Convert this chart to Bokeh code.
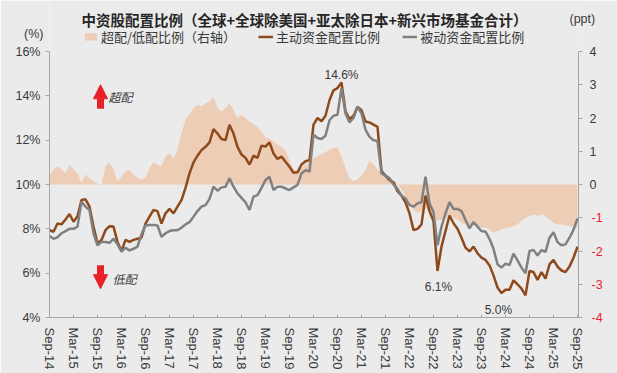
import numpy as np
from bokeh.plotting import figure
from bokeh.models import (Range1d, LinearAxis, FixedTicker, PrintfTickFormatter, Label,
                          Legend, LegendItem, Arrow, NormalHead)
from bokeh.embed import file_html
from bokeh.resources import INLINE

# ---------------- data ----------------
tick_labels = ["Sep-14", "Mar-15", "Sep-15", "Mar-16", "Sep-16", "Mar-17", "Sep-17", "Mar-18",
               "Sep-18", "Mar-19", "Sep-19", "Mar-20", "Sep-20", "Mar-21", "Sep-21", "Mar-22",
               "Sep-22", "Mar-23", "Sep-23", "Mar-24", "Sep-24", "Mar-25", "Sep-25"]

# 主动资金配置比例 (%), monthly Sep-14 .. Sep-25
active = [7.94, 7.87, 8.24, 8.20, 8.42, 8.67, 8.32, 8.57, 9.30, 9.33,
          9.00, 8.10, 7.34, 7.50, 7.94, 8.12, 8.10, 7.41, 7.00, 7.50,
          7.41, 7.50, 7.55, 7.60, 8.24, 8.55, 8.85, 8.80, 8.24, 8.70,
          8.90, 8.70, 9.00, 9.30, 9.85, 10.50, 11.00, 11.30, 11.55, 11.70,
          11.90, 12.50, 12.30, 12.05, 12.00, 12.69, 12.30, 11.70, 11.35, 11.20,
          10.90, 11.30, 11.20, 11.75, 11.71, 11.90, 11.40, 11.15, 11.26, 11.03,
          10.80, 10.53, 10.55, 10.90, 11.05, 11.10, 12.70, 13.00, 12.85, 13.10,
          13.80, 14.25, 14.35, 14.60, 13.30, 12.95, 13.10, 13.50, 13.35, 12.84,
          12.80, 12.70, 12.60, 10.60, 10.40, 10.20, 10.10, 9.70, 9.50, 9.20,
          8.70, 7.94, 8.00, 8.20, 9.50, 8.80, 8.35, 6.10, 7.20, 7.90,
          8.60, 8.25, 8.00, 7.60, 7.15, 6.98, 7.20, 6.90, 6.70, 6.60,
          6.35, 5.90, 5.35, 5.10, 5.25, 5.25, 5.68, 5.50, 5.30, 5.00,
          6.10, 6.05, 5.70, 6.05, 5.75, 6.40, 6.60, 6.30, 6.12, 6.05,
          6.30, 6.70, 7.19]

# 被动资金配置比例 (%)
passive = [7.67, 7.55, 7.62, 7.80, 7.90, 8.00, 8.00, 8.10, 9.22, 9.00,
           8.85, 7.80, 7.26, 7.41, 7.41, 7.37, 7.55, 7.30, 6.97, 7.15,
           7.03, 7.10, 7.20, 7.75, 8.15, 8.17, 8.17, 8.15, 7.64, 7.80,
           7.90, 7.94, 7.94, 8.05, 8.20, 8.30, 8.55, 8.80, 9.00, 9.07,
           9.35, 9.90, 9.72, 9.87, 9.90, 10.28, 9.90, 9.60, 9.40, 9.20,
           8.85, 9.45, 9.52, 9.85, 10.20, 10.35, 9.75, 9.90, 9.90, 9.82,
           9.75, 9.87, 9.98, 10.50, 10.65, 10.58, 12.25, 12.10, 12.05, 12.20,
           12.90, 13.10, 13.15, 14.35, 13.20, 12.80, 13.00, 13.52, 13.20, 12.47,
           12.15, 12.00, 11.95, 10.50, 10.40, 10.28, 10.00, 9.80, 9.50, 9.37,
           9.07, 9.00, 9.15, 9.20, 10.35, 9.15, 8.75, 7.26, 8.10, 8.70,
           9.20, 8.90, 8.90, 8.80, 8.40, 8.02, 8.30, 8.10, 7.90, 7.87,
           7.55, 7.10, 6.40, 6.25, 6.43, 6.36, 6.88, 6.58, 6.25, 6.00,
           7.00, 7.05, 6.80, 7.04, 6.96, 7.60, 7.85, 7.40, 7.26, 7.30,
           7.60, 7.95, 8.47]

# 超配/低配比例 (ppt, right axis)
overweight = [0.29, 0.45, 0.54, 0.44, 0.34, 0.59, 0.45, 0.34, 0.05, 0.30,
              0.20, 0.10, 0.03, 0.00, 0.55, 0.66, 0.45, 0.10, 0.25, 0.40,
              0.44, 0.29, 0.20, 0.15, 0.20, 0.50, 0.68, 0.60, 0.55, 0.84,
              0.95, 0.78, 1.05, 1.55, 1.95, 2.10, 2.30, 2.40, 2.35, 2.45,
              2.50, 2.62, 2.30, 2.20, 2.30, 2.44, 2.24, 2.00, 2.10, 2.00,
              1.90, 1.82, 1.72, 1.60, 1.42, 1.38, 1.30, 1.20, 1.12, 1.04,
              0.70, 0.45, 0.40, 0.50, 0.59, 0.70, 0.80, 0.85, 0.92, 0.97,
              1.05, 1.10, 1.12, 0.85, 0.50, 0.18, 0.10, 0.15, 0.28, 0.44,
              0.72, 0.60, 0.45, 0.35, 0.27, 0.22, 0.12, 0.02, -0.15, -0.35,
              -0.55, -0.75, -0.85, -0.80, -0.70, -0.85, -0.95, -1.10, -1.05, -1.00,
              -0.95, -1.00, -1.05, -1.15, -1.20, -1.25, -1.20, -1.25, -1.30, -1.30,
              -1.35, -1.45, -1.40, -1.35, -1.30, -1.30, -1.25, -1.20, -1.10, -1.00,
              -0.95, -0.90, -0.95, -0.90, -0.95, -1.05, -1.15, -1.20, -1.20, -1.22,
              -1.25, -1.30, -1.30]

left_ticks = [4, 6, 8, 10, 12, 14, 16]
right_ticks = [-4, -3, -2, -1, 0, 1, 2, 3, 4]

months = list(range(len(active)))

# ---------------- style ----------------
BG = "#ebebeb"
PEACH = "#edcdb6"
BROWN = "#8e4a1c"
GRAY = "#808080"
AXIS = "#a6a6a6"
TXT = "#3a3a3a"
RED = "#e8202a"
LAT = "Liberation Sans"
CJK = "Noto Sans CJK SC"

W, H = 617, 373
FRAME_BOTTOM = 317            # page y of the 4% / -4 line
PX_PER_PCT = 266 / 12         # 4%..16% spans 266 px
PX_PER_PPT = 266 / 8          # -4..4 spans 266 px
FH = FRAME_BOTTOM             # frame reaches the top of the canvas
Y_TOP = 4 + FH / PX_PER_PCT
R_TOP = -4 + FH / PX_PER_PPT

p = figure(width=W, height=H, output_backend="svg", toolbar_location=None,
           x_range=Range1d(0, 132.25), y_range=Range1d(4, Y_TOP),
           min_border_left=49, min_border_right=39, min_border_top=0,
           min_border_bottom=H - FRAME_BOTTOM,
           background_fill_color=BG, border_fill_color=BG, outline_line_color=None)
p.grid.visible = False
p.extra_y_ranges = {"ppt": Range1d(-4, R_TOP)}

area_r = p.varea(x=months, y1=0, y2=overweight, y_range_name="ppt", fill_color=PEACH)
act_r = p.line(months, active, line_color=BROWN, line_width=2.5)
pas_r = p.line(months, passive, line_color=GRAY, line_width=2.5)

# x axis
xa = p.xaxis[0]
xa.ticker = FixedTicker(ticks=[6 * i for i in range(len(tick_labels))])
xa.major_label_overrides = {6 * i: t for i, t in enumerate(tick_labels)}
xa.major_label_orientation = "vertical"
xa.major_label_text_font = LAT
xa.major_label_text_font_size = "13px"
xa.major_label_text_color = TXT
xa.major_label_standoff = 10
xa.axis_line_color = AXIS
xa.major_tick_line_color = AXIS
xa.major_tick_in = 3
xa.major_tick_out = 0
xa.minor_tick_line_color = None

# left axis (4%..16%)
ya = p.yaxis[0]
ya.ticker = FixedTicker(ticks=left_ticks)
ya.bounds = (4, 16)
ya.formatter = PrintfTickFormatter(format="%d%%")
ya.major_label_text_font = LAT
ya.major_label_text_font_size = "12.5px"
ya.major_label_text_color = TXT
ya.major_label_standoff = 5
ya.axis_line_color = AXIS
ya.major_tick_line_color = AXIS
ya.major_tick_in = 0
ya.major_tick_out = 4
ya.minor_tick_line_color = None

# unit label "(%)" carried by an outer, line-less left axis
pct_unit_y = 16 + (51 - 33) / PX_PER_PCT
la = LinearAxis(ticker=FixedTicker(ticks=[pct_unit_y]))
la.major_label_overrides = {pct_unit_y: "(%)"}
la.major_label_text_font = LAT
la.major_label_text_font_size = "12.5px"
la.major_label_text_color = TXT
la.major_label_standoff = -31
la.axis_line_color = None
la.major_tick_line_color = None
la.major_tick_in = 0
la.major_tick_out = 0
la.minor_tick_line_color = None
p.add_layout(la, "left")

# right axis: line, ticks and non-negative labels
ra = LinearAxis(y_range_name="ppt", ticker=FixedTicker(ticks=right_ticks), bounds=(-4, 4))
ra.major_label_overrides = {t: (str(t) if t >= 0 else "") for t in right_ticks}
ra.major_label_text_font = LAT
ra.major_label_text_font_size = "12.5px"
ra.major_label_text_color = TXT
ra.major_label_standoff = 7
ra.axis_line_color = AXIS
ra.major_tick_line_color = AXIS
ra.major_tick_in = 0
ra.major_tick_out = 4
ra.minor_tick_line_color = None
p.add_layout(ra, "right")

# right axis: negative labels in red
rb = LinearAxis(y_range_name="ppt", ticker=FixedTicker(ticks=right_ticks), bounds=(-4, 4))
rb.major_label_overrides = {t: (str(t) if t < 0 else "") for t in right_ticks}
rb.major_label_text_font = LAT
rb.major_label_text_font_size = "12.5px"
rb.major_label_text_color = RED
rb.major_label_standoff = -8
rb.axis_line_color = None
rb.major_tick_line_color = None
rb.major_tick_in = 0
rb.major_tick_out = 0
rb.minor_tick_line_color = None
p.add_layout(rb, "right")

# unit label "(ppt)" carried by an outer, line-less right axis
ppt_unit_y = 4 + (51 - 18) / PX_PER_PPT
rc = LinearAxis(y_range_name="ppt", ticker=FixedTicker(ticks=[ppt_unit_y]))
rc.major_label_overrides = {ppt_unit_y: "(ppt)"}
rc.major_label_text_font = LAT
rc.major_label_text_font_size = "12.5px"
rc.major_label_text_color = TXT
rc.major_label_standoff = -36
rc.axis_line_color = None
rc.major_tick_line_color = None
rc.major_tick_in = 0
rc.major_tick_out = 0
rc.minor_tick_line_color = None
p.add_layout(rc, "right")

# title (inside the tall frame, above the data area)
p.add_layout(Label(x=304 - 49, y=FH - 19, x_units="screen", y_units="screen",
                   text="中资股配置比例（全球+全球除美国+亚太除日本+新兴市场基金合计）",
                   text_font=CJK, text_font_size="14.5px", text_font_style="bold",
                   text_color="#262626", text_align="center", text_baseline="middle"))

# legend
legend = Legend(items=[LegendItem(label="超配/低配比例（右轴）", renderers=[area_r]),
                       LegendItem(label="主动资金配置比例", renderers=[act_r]),
                       LegendItem(label="被动资金配置比例", renderers=[pas_r])],
                orientation="horizontal", location=(83 - 49, FH - 46),
                background_fill_alpha=0, border_line_alpha=0, padding=0, margin=0,
                spacing=22, glyph_width=15, glyph_height=9, label_height=13,
                label_standoff=3, label_text_font=CJK, label_text_font_size="13px",
                label_text_color=TXT)
p.add_layout(legend, "center")

# value annotations
for xv, yv, txt in [(73, 14.95, "14.6%"), (97.25, 5.38, "6.1%"), (112.25, 4.35, "5.0%")]:
    p.add_layout(Label(x=xv, y=yv, text=txt, text_font=LAT, text_font_size="12px",
                       text_color=TXT, text_align="center", text_baseline="middle"))

# over/under arrows
p.add_layout(Arrow(end=NormalHead(size=14, fill_color=RED, line_color=RED),
                   x_start=12.75, y_start=13.42, x_end=12.75, y_end=14.5,
                   line_color=RED, line_width=7))
p.add_layout(Arrow(end=NormalHead(size=14, fill_color=RED, line_color=RED),
                   x_start=12.75, y_start=6.36, x_end=12.75, y_end=5.3,
                   line_color=RED, line_width=7))
p.add_layout(Label(x=14.75, y=13.96, text="超配", text_font=CJK, text_font_size="12px",
                   text_font_style="italic", text_color=TXT, text_baseline="middle"))
p.add_layout(Label(x=15.75, y=5.77, text="低配", text_font=CJK, text_font_size="12px",
                   text_font_style="italic", text_color=TXT, text_baseline="middle"))

open("out.html", "w").write(file_html(p, INLINE))
